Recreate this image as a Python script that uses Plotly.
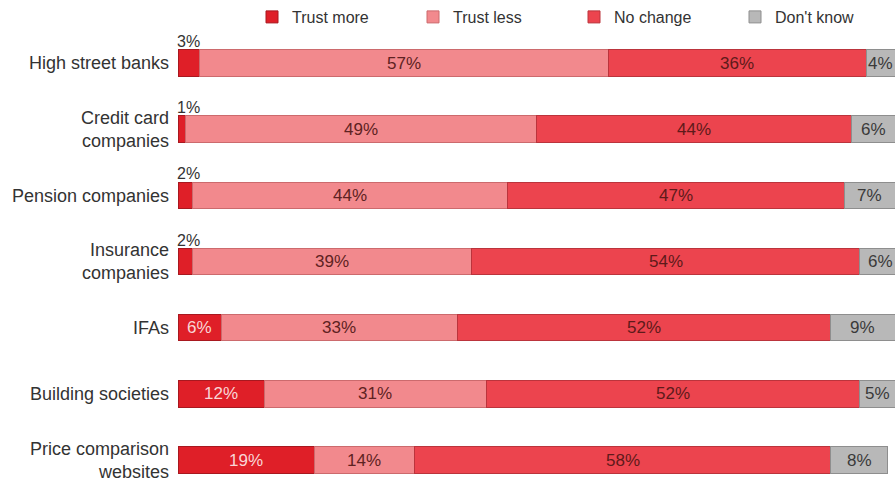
import plotly.graph_objects as go

categories = [
    "High street banks",
    "Credit card<br>companies",
    "Pension companies",
    "Insurance<br>companies",
    "IFAs",
    "Building societies",
    "Price comparison<br>websites",
]
series_names = ["Trust more", "Trust less", "No change", "Don't know"]
trust_more = [3, 1, 2, 2, 6, 12, 19]
trust_less = [57, 49, 44, 39, 33, 31, 14]
no_change = [36, 44, 47, 54, 52, 52, 58]
dont_know = [4, 6, 7, 6, 9, 5, 8]

series_values = [trust_more, trust_less, no_change, dont_know]
fill_colors = ["#df1f28", "#f2898d", "#ec444e", "#b8b8b8"]
edge_colors = ["#a8181f", "#cc6a6d", "#bb343c", "#8e8e8e"]
label_colors = ["#f9d6d6", "#5e2222", "#5e1a1a", "#3a3a3a"]

ypos = list(range(len(categories)))

fig = go.Figure()
for name, vals, fc, ec in zip(series_names, series_values, fill_colors, edge_colors):
    fig.add_trace(go.Bar(
        name=name, y=ypos, x=vals, orientation="h",
        marker=dict(color=fc, line=dict(color=ec, width=1)),
        width=0.4, hoverinfo="skip",
    ))

# value labels: centred inside each segment; tiny first segments labelled above the bar
annotations = []
for i in ypos:
    start = 0
    for s, vals in enumerate(series_values):
        v = vals[i]
        if s == 0 and v < 4:
            annotations.append(dict(
                x=0, y=i, xref="x", yref="y", text=f"{v}%", showarrow=False,
                xanchor="left", yanchor="bottom", yshift=11, xshift=-3,
                font=dict(size=16, color="#333333"),
            ))
        else:
            annotations.append(dict(
                x=start + v / 2, y=i, xref="x", yref="y", text=f"{v}%",
                showarrow=False, font=dict(size=17, color=label_colors[s]),
            ))
        start += v

fig.update_layout(
    width=896, height=478,
    margin=dict(l=178, r=1, t=38, b=0),
    barmode="stack",
    plot_bgcolor="white", paper_bgcolor="white",
    font=dict(family="Liberation Sans, Arial, sans-serif", color="#333333"),
    xaxis=dict(range=[0, 100], visible=False, fixedrange=True),
    yaxis=dict(
        tickvals=ypos, ticktext=categories, range=[6.272, -0.378],
        showgrid=False, zeroline=False, showline=False, ticks="",
        ticklabelstandoff=8, ticklabeloverflow="allow",
        tickfont=dict(size=18, color="#333333"), automargin=False,
    ),
    legend=dict(
        orientation="h", x=0.565, xanchor="center",
        yref="container", y=1.0, yanchor="top",
        font=dict(size=16, color="#333333"), itemwidth=30, entrywidth=116,
        traceorder="normal", bgcolor="rgba(0,0,0,0)",
    ),
    bargap=0.6,
    annotations=annotations,
)

fig.write_html("out.html")
